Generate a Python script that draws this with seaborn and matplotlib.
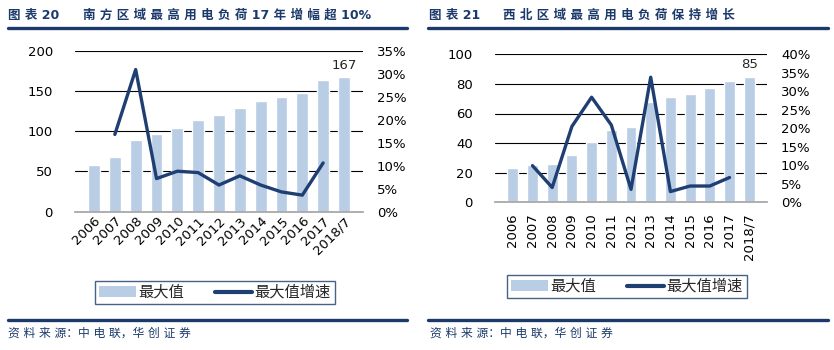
import numpy as np
import seaborn as sns
import matplotlib.pyplot as plt
from matplotlib.lines import Line2D
from matplotlib.patches import Patch
from matplotlib.ticker import FuncFormatter

years = ['2006', '2007', '2008', '2009', '2010', '2011', '2012',
         '2013', '2014', '2015', '2016', '2017', '2018/7']

# 南方区域
south_max = [58, 68, 89, 96, 104, 114, 120, 129, 137, 142, 148, 164, 167]
south_growth = [np.nan, 16.8, 30.9, 7.2, 8.8, 8.5, 5.8, 7.8, 5.8, 4.3, 3.6, 10.6, np.nan]

# 西北区域
nw_max = [23, 25, 26, 32, 41, 49, 51, 68, 71, 73, 77, 82, 85]
nw_growth = [np.nan, 9.9, 4.0, 20.5, 28.4, 20.9, 3.5, 33.8, 2.9, 4.4, 4.4, 6.7, np.nan]

bar_c = '#B9CDE5'
line_c = '#1F3F73'
navy = '#1B3A6B'

sns.set_theme(style='white')
plt.rcParams['font.family'] = ['DejaVu Sans', 'Noto Sans CJK SC']

fig = plt.figure(figsize=(8.34, 3.5), dpi=100)
W, H = 834, 350


def px(x0, y0, x1, y1):
    # pixel box -> figure rect
    return [x0 / W, 1 - y1 / H, (x1 - x0) / W, (y1 - y0) / H]


def panel(rect, vals, growth, ymax, ystep, gmax, rot, bw):
    ax = fig.add_axes(rect)
    sns.barplot(x=years, y=vals, color=bar_c, saturation=1, width=bw, ax=ax)
    ax.set_ylim(0, ymax)
    ax.set_yticks(np.arange(0, ymax + 1, ystep))
    ax.yaxis.grid(True, color='black', lw=0.8)
    ax.set_axisbelow(True)
    for s in ['top', 'left', 'right']:
        ax.spines[s].set_visible(False)
    ax.spines['bottom'].set_color('#A6A6A6')
    ax.set_xlabel('')
    ax.set_ylabel('')
    ax.tick_params(axis='y', length=0, pad=16, labelsize=9.5, colors='black')
    if rot == 90:
        ax.tick_params(axis='x', length=0, pad=8, labelsize=9.5, colors='black')
        plt.setp(ax.get_xticklabels(), rotation=90, ha='center', va='top')
    else:
        ax.tick_params(axis='x', length=0, pad=2, labelsize=9.5, colors='black')
        plt.setp(ax.get_xticklabels(), rotation=45, ha='right', va='top',
                 rotation_mode='anchor')
    ax.annotate(f'{vals[-1]}', xy=(len(vals) - 1, vals[-1]), xytext=(0, 4),
                textcoords='offset points', ha='center', va='bottom', fontsize=9.5)

    ax2 = ax.twinx()
    sns.lineplot(x=np.arange(len(years)), y=growth, color=line_c, lw=2.4, ax=ax2)
    ax2.set_ylim(0, gmax)
    ax2.set_yticks(np.arange(0, gmax + 0.1, 5))
    ax2.yaxis.set_major_formatter(FuncFormatter(lambda v, p: f'{v:.0f}%'))
    ax2.tick_params(axis='y', length=0, pad=10, labelsize=9.5, colors='black')
    for s in ax2.spines.values():
        s.set_visible(False)
    ax2.set_ylabel('')
    return ax


panel(px(75, 50.7, 363, 211.7), south_max, south_growth, 200, 50, 35, 45, 0.57)
panel(px(495, 54.3, 767, 202.3), nw_max, nw_growth, 100, 20, 40, 90, 0.55)

# titles (letter-spaced like the original)
fig.text(8 / W, 1 - 15 / H, '图 表 20', fontsize=9, fontweight='bold', color=navy, va='center')
fig.text(83 / W, 1 - 15 / H, '南 方 区 域 最 高 用 电 负 荷 17 年 增 幅 超 10%',
         fontsize=9, fontweight='bold', color=navy, va='center')
fig.text(429 / W, 1 - 15 / H, '图 表 21', fontsize=9, fontweight='bold', color=navy, va='center')
fig.text(503 / W, 1 - 15 / H, '西 北 区 域 最 高 用 电 负 荷 保 持 增 长',
         fontsize=9, fontweight='bold', color=navy, va='center')

# rules
for x0, x1 in [(8, 407), (428, 828)]:
    fig.add_artist(Line2D([x0 / W, x1 / W], [1 - 28 / H, 1 - 28 / H],
                          transform=fig.transFigure, color=navy, lw=2.4))
    fig.add_artist(Line2D([x0 / W, x1 / W], [1 - 320 / H, 1 - 320 / H],
                          transform=fig.transFigure, color=navy, lw=2.4))

# legends
handles = [Patch(facecolor=bar_c, edgecolor='none'),
           Line2D([0], [0], color=line_c, lw=3)]
labels = ['最大值', '最大值增速']
for cx, cy in [(215, 292.5), (627, 286.5)]:
    leg = fig.legend(handles, labels, loc='center', bbox_to_anchor=(cx / W, 1 - cy / H),
                     ncol=2, frameon=True, fancybox=False, fontsize=11,
                     handlelength=2.4, handleheight=0.7, handletextpad=0.2,
                     columnspacing=2.0, borderpad=0.25, borderaxespad=0)
    leg.get_frame().set_edgecolor(navy)
    leg.get_frame().set_linewidth(1.0)

# sources
for x0 in [8, 430]:
    fig.text(x0 / W, 1 - 333 / H, '资 料 来 源：中 电 联，华 创 证 券', fontsize=8.5,
             color=navy, va='center', style='italic')

plt.savefig('out.png', dpi=100)
plt.close()
